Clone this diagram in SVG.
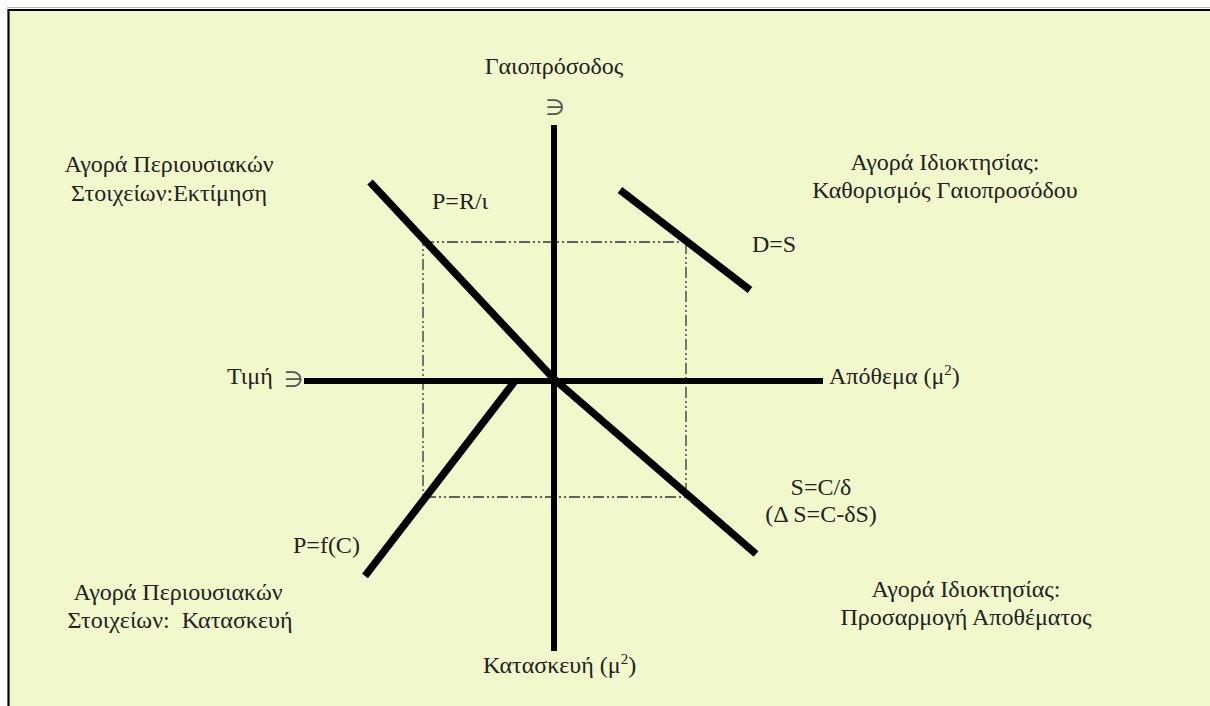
<svg xmlns="http://www.w3.org/2000/svg" width="1210" height="706" viewBox="0 0 1210 706">
<style>
text{font-family:"Liberation Serif","Times New Roman",serif;font-size:24px;fill:#222}
.c{text-anchor:middle}
.sym{fill:#555;font-family:"DejaVu Sans",sans-serif;font-size:22px}
.sup{font-size:15px}
.ax{stroke:#000;stroke-width:6;fill:none}
.cv{stroke:#000;stroke-width:7.5;fill:none}
.dd{stroke:#333;stroke-width:1.3;fill:none;stroke-dasharray:11 3 2 3 2 3}
</style>
<rect x="0" y="0" width="1210" height="706" fill="#fff"/>
<rect x="9" y="10" width="1201" height="696" fill="#F1F9CC"/>
<line x1="7" y1="7.5" x2="1210" y2="7.5" stroke="#bbb" stroke-width="1"/>
<path d="M8.5,706 V10 H1210" stroke="#000" stroke-width="2.2" fill="none"/>
<g id="connectors">
<rect class="dd" x="423" y="242" width="263" height="255"/>
<line class="ax" x1="554" y1="125" x2="554" y2="651"/>
<line class="ax" x1="304" y1="381" x2="823" y2="381"/>
<line class="cv" x1="370" y1="182" x2="554" y2="379"/>
<line class="cv" x1="554" y1="379" x2="756" y2="554"/>
<line class="cv" x1="620" y1="190" x2="750" y2="290"/>
<line class="cv" x1="515" y1="381" x2="365" y2="576"/>
</g>
<g id="axis-rent"><text class="c" x="554" y="74">Γαιοπρόσοδος</text><text class="sym c" x="555" y="115">∋</text></g>
<g id="axis-price"><text x="227" y="384">Τιμή</text><text class="sym" x="284" y="387">∋</text></g>
<g id="axis-stock"><text x="829" y="384">Απόθεμα (μ<tspan class="sup" dy="-9">2</tspan><tspan dy="9">)</tspan></text></g>
<g id="axis-construction"><text x="483" y="673">Κατασκευή (μ<tspan class="sup" dy="-9">2</tspan><tspan dy="9">)</tspan></text></g>
<g id="q-valuation"><text class="c" x="169" y="172">Αγορά Περιουσιακών</text><text class="c" x="169" y="201">Στοιχείων:Εκτίμηση</text></g>
<g id="q-rent"><text class="c" x="945" y="170">Αγορά Ιδιοκτησίας:</text><text class="c" x="945" y="198">Καθορισμός Γαιοπροσόδου</text></g>
<g id="q-construction"><text class="c" x="178" y="600">Αγορά Περιουσιακών</text><text class="c" x="180" y="628" xml:space="preserve">Στοιχείων:  Κατασκευή</text></g>
<g id="q-adjust"><text class="c" x="966" y="597">Αγορά Ιδιοκτησίας:</text><text class="c" x="966" y="625">Προσαρμογή Αποθέματος</text></g>
<g id="lbl-pr"><text x="432" y="209">P=R/ι</text></g>
<g id="lbl-ds"><text x="752" y="252">D=S</text></g>
<g id="lbl-sc"><text class="c" x="821" y="495">S=C/δ</text><text class="c" x="821" y="522">(Δ S=C-δS)</text></g>
<g id="lbl-pf"><text x="293" y="553">P=f(C)</text></g>
</svg>
